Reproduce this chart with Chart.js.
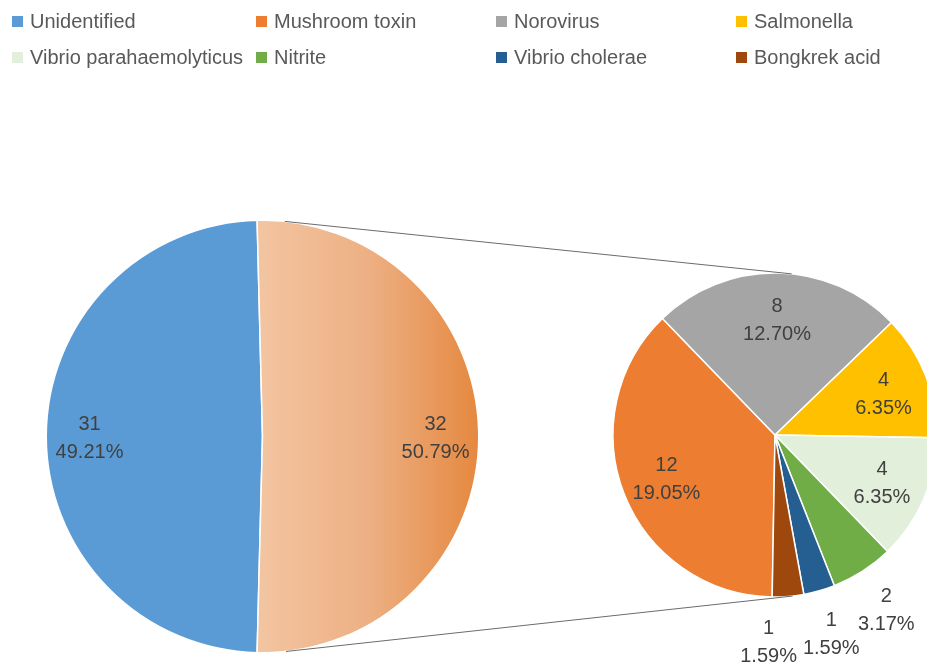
<!DOCTYPE html>
<html>
<head>
<meta charset="utf-8">
<script src="https://cdn.jsdelivr.net/npm/chart.js@4.4.1/dist/chart.umd.min.js"></script>
<style>
  html, body { margin:0; padding:0; overflow:hidden; background:#fff; }
  #wrap { position:relative; width:927px; height:663px; overflow:hidden; background:#fff; }
  canvas { position:absolute; left:0; top:0; }
  .lg { position:absolute; font-family:"Liberation Sans", Arial, sans-serif; font-size:20px; color:#595959; white-space:nowrap; line-height:24px; }
  .lg i { position:absolute; left:0; top:7px; width:11px; height:11px; }
  .lg span { position:absolute; left:18px; top:0; }
</style>
</head>
<body>
<div id="wrap">
  <canvas id="mainPie" width="1000" height="663"></canvas>
  <canvas id="subPie" width="1000" height="663"></canvas>
  <div id="legend"></div>
</div>
<script>
// ---- data ----
const mainLabels = ['Unidentified', 'Other'];
const mainValues = [31, 32];
const subLabels = ['Mushroom toxin', 'Norovirus', 'Salmonella', 'Vibrio parahaemolyticus', 'Nitrite', 'Vibrio cholerae', 'Bongkrek acid'];
const subValues = [12, 8, 4, 4, 2, 1, 1];

// ---- styles ----
const unidentifiedColor = '#5B9BD5';
const subColors = ['#ED7D31', '#A5A5A5', '#FFC000', '#E2EFDA', '#70AD47', '#255E91', '#9E480E'];
const labelFont = '20px "Liberation Sans", Arial, sans-serif';
const labelColor = '#404040';

const grandTotal = mainValues.reduce((a, b) => a + b, 0);

// legend (grid of 4 columns, 2 rows)
const legendItems = [{ t: mainLabels[0], c: unidentifiedColor }].concat(subLabels.map((t, i) => ({ t, c: subColors[i] })));
const colX = [12, 256, 496, 736];
const rowY = [9, 45];
const lg = document.getElementById('legend');
legendItems.forEach((it, i) => {
  const d = document.createElement('div');
  d.className = 'lg';
  d.style.left = colX[i % 4] + 'px';
  d.style.top = rowY[Math.floor(i / 4)] + 'px';
  d.innerHTML = '<i style="background:' + it.c + '"></i><span>' + it.t + '</span>';
  lg.appendChild(d);
});

// data label plugin
function drawLabels(chart, opts) {
  const ctx = chart.ctx;
  const meta = chart.getDatasetMeta(0);
  const values = chart.data.datasets[0].data;
  const dsTotal = values.reduce((a, b) => a + b, 0);
  const lh = 28;
  ctx.save();
  ctx.font = labelFont;
  ctx.fillStyle = labelColor;
  ctx.textAlign = 'center';
  ctx.textBaseline = 'middle';
  const items = [];
  meta.data.forEach((arc, i) => {
    const p = arc.getProps(['x', 'y', 'startAngle', 'endAngle', 'outerRadius'], true);
    const mid = (p.startAngle + p.endAngle) / 2;
    const outside = values[i] / dsTotal < opts.outsideShare;
    const rr = p.outerRadius * (outside ? opts.outerFactor : opts.innerFactor);
    const lines = [String(values[i]), (values[i] / grandTotal * 100).toFixed(2) + '%'];
    const w = Math.max(...lines.map(l => ctx.measureText(l).width));
    items.push({ x: p.x + Math.cos(mid) * rr, y: p.y + opts.dy + Math.sin(mid) * rr, lines, w, outside });
  });
  // resolve overlap of outside labels (push leftwards)
  const outs = items.filter(o => o.outside).sort((a, b) => b.x - a.x);
  for (let k = 1; k < outs.length; k++) {
    const r = outs[k - 1], l = outs[k];
    if (Math.abs(r.y - l.y) < lh * 0.7) {
      const maxX = r.x - r.w / 2 - 6 - l.w / 2;
      if (l.x > maxX) l.x = maxX;
    }
  }
  items.forEach(o => {
    ctx.fillText(o.lines[0], o.x, o.y - lh / 2);
    ctx.fillText(o.lines[1], o.x, o.y + lh / 2);
  });
  ctx.restore();
}

const labelPlugin = {
  id: 'sliceLabels',
  afterDatasetsDraw(chart, args, opts) { drawLabels(chart, opts); }
};

// main pie
const otherDeg = mainValues[1] / grandTotal * 360;
const mainRotation = 90 + (otherDeg - 180) / 2 + 90;

const mainChart = new Chart(document.getElementById('mainPie'), {
  type: 'pie',
  data: {
    labels: mainLabels,
    datasets: [{
      data: mainValues,
      backgroundColor: (c) => {
        if (c.dataIndex === 0) return unidentifiedColor;
        const ch = c.chart;
        const ca = ch.chartArea;
        if (!ca) return '#ECAA78';
        const cx = (ca.left + ca.right) / 2;
        const r = Math.min(ca.right - ca.left, ca.bottom - ca.top) / 2;
        const g = ch.ctx.createLinearGradient(cx - 6, 0, cx + r, 0);
        g.addColorStop(0, '#F3C5A2');
        g.addColorStop(0.5, '#EDB084');
        g.addColorStop(1, '#E5883F');
        return g;
      },
      borderColor: '#ffffff',
      borderWidth: 1.5
    }]
  },
  options: {
    responsive: false,
    animation: false,
    devicePixelRatio: 1,
    rotation: mainRotation,
    layout: { padding: { left: 45.5, top: 219.5, right: 520.5, bottom: 9.5 } },
    plugins: {
      legend: { display: false },
      tooltip: { enabled: true },
      sliceLabels: { outsideShare: 0, innerFactor: 0.8, outerFactor: 1.27, dy: 2 }
    }
  },
  plugins: [labelPlugin]
});

// connector lines plugin (common external tangents)
const connectorPlugin = {
  id: 'connectors',
  afterDatasetsDraw(chart) {
    const a = mainChart.getDatasetMeta(0).data[1];
    const b = chart.getDatasetMeta(0).data[0];
    if (!a || !b) return;
    const x1 = a.x, y1 = a.y, r1 = a.outerRadius;
    const x2 = b.x, y2 = b.y, r2 = b.outerRadius;
    const d = Math.hypot(x2 - x1, y2 - y1);
    const ang = Math.atan2(y2 - y1, x2 - x1);
    const phi = Math.acos((r1 - r2) / d);
    const ctx = chart.ctx;
    ctx.save();
    ctx.strokeStyle = '#6b6b6b';
    ctx.lineWidth = 1;
    [-1, 1].forEach(s => {
      const t = ang + s * phi;
      ctx.beginPath();
      ctx.moveTo(x1 + r1 * Math.cos(t), y1 + r1 * Math.sin(t));
      ctx.lineTo(x2 + r2 * Math.cos(t), y2 + r2 * Math.sin(t));
      ctx.stroke();
    });
    ctx.restore();
  }
};

// sub pie
new Chart(document.getElementById('subPie'), {
  type: 'pie',
  data: {
    labels: subLabels,
    datasets: [{
      data: subValues,
      backgroundColor: subColors,
      borderColor: '#ffffff',
      borderWidth: 1.5
    }]
  },
  options: {
    responsive: false,
    animation: false,
    devicePixelRatio: 1,
    rotation: 181,
    layout: { padding: { left: 612.25, top: 272.25, right: 62.25, bottom: 65.25 } },
    plugins: {
      legend: { display: false },
      tooltip: { enabled: true },
      sliceLabels: { outsideShare: 0.1, innerFactor: 0.72, outerFactor: 1.27, dy: 2 }
    }
  },
  plugins: [labelPlugin, connectorPlugin]
});
</script>
</body>
</html>
